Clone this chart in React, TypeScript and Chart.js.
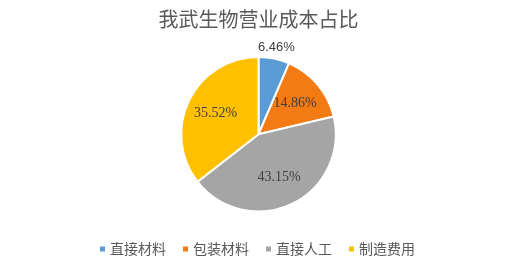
import React, { useEffect, useRef } from "react";
import { Chart, registerables } from "chart.js";

Chart.register(...registerables);

const TITLE = "我武生物营业成本占比";
const CATEGORIES = ["直接材料", "包装材料", "直接人工", "制造费用"];
const VALUES = [6.46, 14.86, 43.15, 35.52];
const COLORS = ["#5B9BD5", "#F47A14", "#A5A5A5", "#FFC000"];

const labelPlugin = {
  id: "sliceLabels",
  afterDatasetsDraw(chart: any) {
    const ctx = chart.ctx;
    const meta = chart.getDatasetMeta(0);
    const data = chart.data.datasets[0].data as number[];
    ctx.save();
    ctx.fillStyle = "#404040";
    ctx.textAlign = "center";
    ctx.textBaseline = "middle";
    meta.data.forEach((arc: any, i: number) => {
      const { x, y, startAngle, endAngle, outerRadius } = arc.getProps(
        ["x", "y", "startAngle", "endAngle", "outerRadius"],
        true
      );
      const mid = (startAngle + endAngle) / 2;
      const frac = (endAngle - startAngle) / (Math.PI * 2);
      const outside = frac < 0.1;
      const k = outside ? 1.15 : 0.62;
      ctx.font = outside
        ? '13px "Liberation Sans", sans-serif'
        : '14px "Liberation Serif", serif';
      const lx = x + Math.cos(mid) * outerRadius * k;
      const ly = y + Math.sin(mid) * outerRadius * k;
      ctx.fillText(data[i].toFixed(2) + "%", lx, ly);
    });
    ctx.restore();
  },
};

const legendPlugin = {
  id: "customLegend",
  afterDraw(chart: any) {
    const ctx = chart.ctx;
    const labels = chart.data.labels as string[];
    const colors = chart.data.datasets[0].backgroundColor as string[];
    ctx.save();
    ctx.font = '14px "Noto Sans CJK SC", sans-serif';
    ctx.textBaseline = "middle";
    const box = 5;
    const gap = 5;
    const spacing = 17;
    const widths = labels.map((l) => box + gap + ctx.measureText(l).width);
    const total = widths.reduce((a, b) => a + b, 0) + spacing * (labels.length - 1);
    let x = (chart.width - total) / 2;
    const y = 249;
    labels.forEach((l, i) => {
      ctx.fillStyle = colors[i];
      ctx.fillRect(x, y - box / 2, box, box);
      ctx.fillStyle = "#595959";
      ctx.fillText(l, x + box + gap, y);
      x += widths[i] + spacing;
    });
    ctx.restore();
  },
};

export default function App() {
  const ref = useRef<HTMLCanvasElement>(null);
  useEffect(() => {
    document.body.style.margin = "0";
    const chart = new Chart(ref.current!, {
      type: "pie",
      data: {
        labels: CATEGORIES,
        datasets: [
          {
            data: VALUES,
            backgroundColor: COLORS,
            borderColor: "#ffffff",
            borderWidth: 2,
            hoverOffset: 0,
          },
        ],
      },
      options: {
        animation: false,
        responsive: false,
        layout: { padding: { top: 0, bottom: 55.5, left: 2, right: 0 } },
        plugins: {
          legend: { display: false },
          tooltip: { enabled: false },
          title: {
            display: true,
            text: TITLE,
            color: "#595959",
            font: { size: 20, family: '"Noto Sans CJK SC", sans-serif', weight: "normal" },
            padding: { top: 7, bottom: 25 },
          },
        },
      },
      plugins: [labelPlugin, legendPlugin],
    });
    return () => chart.destroy();
  }, []);
  return (
    <div style={{ position: "absolute", left: 0, top: 0, width: 515, height: 268 }}>
      <canvas ref={ref} width={515} height={268} style={{ width: 515, height: 268 }} />
    </div>
  );
}
